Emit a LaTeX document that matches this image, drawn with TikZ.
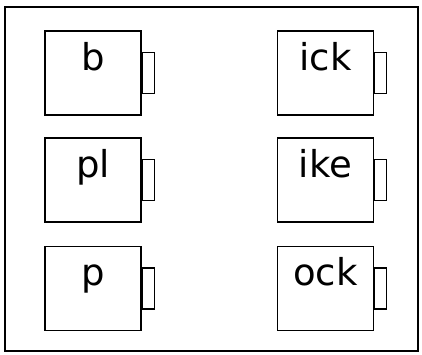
\documentclass[tikz,border=0pt]{standalone}
\usepackage{fontspec}
\setmainfont{DejaVu Sans}
\usetikzlibrary{positioning}

\begin{document}
\begin{tikzpicture}[x=1pt, y=-1pt,
    cup/.style={rectangle, draw=black, line width=1.3pt, fill=white, minimum width=96pt, minimum height=84pt, inner sep=0pt},
    handle/.style={rectangle, draw=black, line width=1.3pt, fill=white, minimum width=12pt, minimum height=41pt, inner sep=0pt},
    word/.style={anchor=base, inner sep=0pt, font=\fontsize{37}{37}\selectfont},
    node distance=0pt
]
\useasboundingbox (0,0) rectangle (422,354);
\draw[line width=2pt] (4.5,7) rectangle (417.5,351);

% onsets
\node[cup] (b) at (93,73) {};
\node[handle, right=of b] (bh) {};
\node[word] (bt) at ([yshift=-40pt]b.north) {b};

\node[cup] (pl) at (93,180) {};
\node[handle, right=of pl] (plh) {};
\node[word] (plt) at ([yshift=-40pt]pl.north) {pl};

\node[cup] (p) at (93,288.5) {};
\node[handle, right=of p] (ph) {};
\node[word] (pt) at ([yshift=-40pt]p.north) {p};

% rimes
\node[cup] (ick) at (325.5,73) {};
\node[handle, right=of ick] (ickh) {};
\node[word] (ickt) at ([yshift=-40pt]ick.north) {ick};

\node[cup] (ike) at (325.5,180) {};
\node[handle, right=of ike] (ikeh) {};
\node[word] (iket) at ([yshift=-40pt]ike.north) {ike};

\node[cup] (ock) at (325.5,288.5) {};
\node[handle, right=of ock] (ockh) {};
\node[word] (ockt) at ([yshift=-40pt]ock.north) {ock};

\end{tikzpicture}
\end{document}
